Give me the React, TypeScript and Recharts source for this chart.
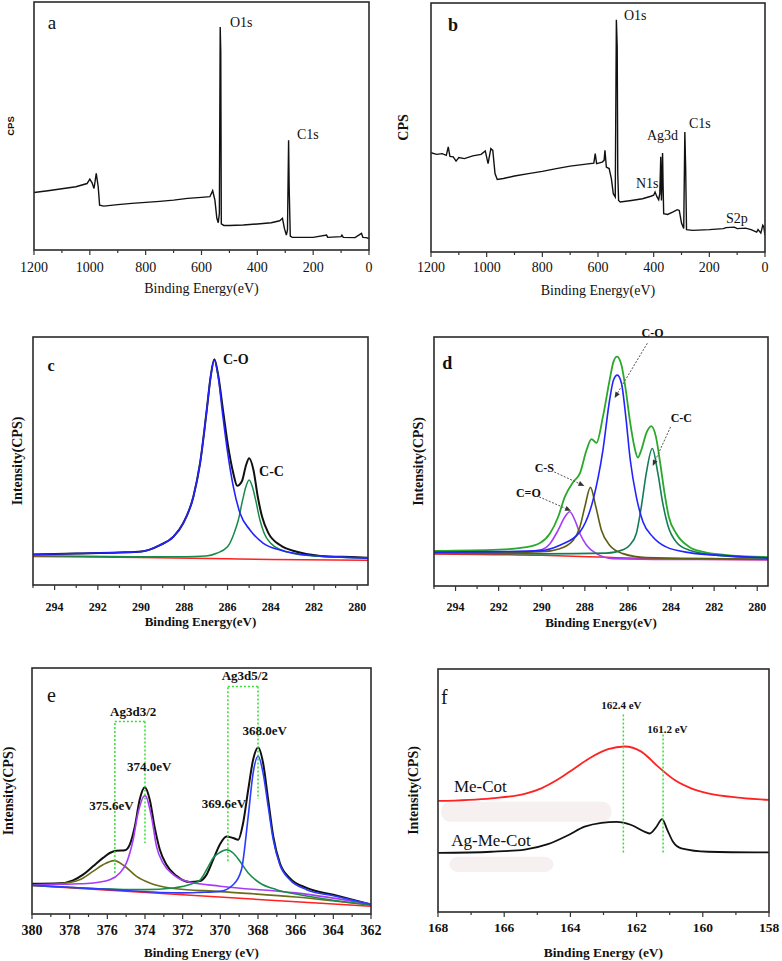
import React from 'react';
import { LineChart, Line, XAxis, YAxis, ReferenceArea, ReferenceLine, ReferenceDot, Label } from 'recharts';

const SERIF = "'Liberation Serif', 'Times New Roman', serif";
const SANS = "'Liberation Sans', Arial, sans-serif";

// (a) survey spectrum, Me-Cot
const aEnergy = [1200, 1150, 1100, 1050, 1010, 1000, 992, 985, 977, 970, 965, 950, 900, 850, 800, 750, 700, 650, 600, 570, 560, 552, 545, 540, 536, 533, 531, 529, 520, 500, 450, 400, 350, 320, 310, 303, 296, 292, 288, 286, 282, 275, 200, 152, 148, 100, 97, 92, 50, 27, 22, 10, 0];
const aCounts = [23.2, 23.9, 24.7, 25.5, 26.8, 28.6, 27.1, 24.8, 30.9, 25.5, 18.1, 17.7, 18.3, 18.8, 19.2, 19.6, 20.1, 20.8, 21.2, 21.5, 23.9, 20.1, 12.8, 11, 14.8, 89.9, 80, 10.5, 9.9, 9.9, 10.1, 10.5, 11, 11.8, 12.8, 8.7, 6, 8.1, 44.3, 25.5, 5.6, 5.1, 5.1, 6, 5.1, 5.4, 6, 5.1, 5, 6.7, 5.1, 5, 4.6];

// (b) survey spectrum, Ag-Me-Cot
const bEnergy = [1200, 1180, 1160, 1145, 1138, 1132, 1120, 1110, 1100, 1080, 1050, 1020, 1005, 995, 985, 978, 970, 962, 940, 900, 850, 800, 750, 700, 650, 615, 610, 605, 585, 578, 575, 570, 560, 552, 545, 538, 534, 531, 529, 526, 520, 480, 440, 410, 400, 395, 388, 382, 378, 374.5, 372, 370, 368, 366, 364, 350, 330, 315, 308, 300, 292, 288, 285, 282, 260, 200, 150, 140, 110, 100, 70, 50, 30, 25, 15, 8, 4, 0];
const bCounts = [39.9, 39.2, 39.5, 38.8, 42.2, 38.4, 38.2, 36.5, 37.9, 37.5, 38.6, 39.2, 40.6, 35.5, 41.5, 40.8, 31.5, 29.1, 29.5, 30.5, 31.5, 32.4, 33.5, 34.5, 35.2, 35.7, 39.5, 35.5, 36.1, 36.8, 40.8, 34.1, 33.5, 29.5, 23.4, 22.1, 93.3, 82.3, 31.5, 20.7, 20.1, 20.7, 21.4, 22.4, 22.8, 24.1, 22.1, 21, 23.4, 38.2, 20.7, 28.8, 39.8, 26.1, 15.4, 15.1, 16.1, 17, 16.7, 11.6, 9.4, 48.2, 33.5, 9, 8.7, 9, 9.4, 9.8, 10, 9.4, 9.6, 9, 8, 9, 7.6, 10.7, 10, 6.7];

// (c) C1s, Me-Cot
const cSumX = [295, 293, 291, 290, 289.12, 288.5, 288.05, 287.58, 287.27, 286.96, 286.78, 286.61, 286.43, 286.2, 285.97, 285.73, 285.55, 285.34, 285.14, 285.0, 284.8, 284.6, 284.4, 284.1, 283.57, 282.8, 281.7, 280, 279.5];
const cSumY = [12.3, 12.7, 13.1, 13.5, 16.1, 19.5, 24.9, 35.6, 49.1, 70.6, 84, 91, 84.5, 69.9, 55.8, 45, 40, 41.7, 48.4, 51.1, 46.4, 35.6, 27.5, 20.8, 16.1, 13.4, 11.7, 11.2, 11.0];
const cCOX = [295, 293, 291, 290.05, 289.12, 288.5, 288.05, 287.58, 287.27, 286.96, 286.78, 286.61, 286.43, 286.23, 286.01, 285.73, 285.42, 284.96, 284.34, 283.57, 282.34, 280, 279.5];
const cCOY = [12.3, 12.7, 13.1, 13.4, 16.1, 19.5, 24.9, 35.6, 49.1, 70.6, 84, 90.6, 84, 69.2, 54.4, 39.6, 28.9, 22.2, 16.8, 14.1, 12.1, 11.0, 10.8];
const cCCX = [295, 290, 288, 287, 286.5, 286, 285.7, 285.5, 285.3, 285.15, 285.0, 284.85, 284.7, 284.5, 284.3, 284.0, 283.5, 283, 282, 280, 279.5];
const cCCY = [11.8, 11.4, 11.4, 11.7, 12.8, 15.4, 20.8, 26.2, 34.3, 39.6, 42.3, 39.6, 34.3, 26.2, 20.8, 16.8, 14.1, 12.8, 11.7, 11.0, 10.8];
const cBgX = [295, 290, 286, 284, 279.5];
const cBgY = [11.5, 11.1, 10.6, 10.3, 10.0];

// (d) C1s, Ag-Me-Cot
const dSumX = [295, 292, 290.81, 290.08, 289.62, 289.24, 288.93, 288.54, 288.23, 287.92, 287.69, 287.46, 287.16, 286.85, 286.67, 286.51, 286.3, 286.1, 285.89, 285.7, 285.54, 285.38, 285.15, 284.92, 284.7, 284.5, 284.3, 284.1, 283.76, 283.15, 282.5, 281.5, 279.5];
const dSumY = [14.1, 14.6, 15.5, 17.3, 21.1, 27.7, 35.8, 41.8, 45.2, 54.6, 59, 57.5, 68, 82.7, 90.1, 92.1, 88.7, 78.7, 65.3, 55.9, 51.6, 54.6, 61.3, 64.2, 59.9, 49.2, 37.2, 27.7, 21.1, 15.7, 13.7, 12.5, 11.6];
const dCOX = [295, 292, 290.08, 289.16, 288.23, 287.62, 287.16, 286.85, 286.67, 286.49, 286.3, 286.1, 285.89, 285.61, 285.3, 284.84, 284.23, 283.15, 281.76, 279.5];
const dCOY = [13.6, 13.8, 14.2, 16.4, 21.7, 34.5, 54.6, 74.7, 82.7, 84.7, 81.4, 68, 50.5, 35.8, 25.7, 19.7, 15.7, 13.4, 12.3, 11.3];
const dCCX = [295, 290, 287, 286.2, 285.92, 285.61, 285.38, 285.15, 284.87, 284.61, 284.38, 284.15, 283.76, 283.15, 281.76, 279.5];
const dCCY = [13.2, 12.9, 13.2, 14.7, 16.4, 21.1, 31.8, 45.2, 55.2, 45.2, 33.1, 24.4, 17.7, 14.4, 12.3, 11.3];
const dCSX = [295, 290, 289.16, 288.54, 288.23, 288.0, 287.74, 287.49, 287.23, 286.85, 286.23, 285.15, 279.5];
const dCSY = [13.1, 13.8, 15, 18.4, 23.7, 31.8, 39.6, 31.8, 22.4, 16.4, 13, 11.4, 10.8];
const dCdOX = [295, 291, 290.08, 289.62, 289.24, 288.93, 288.7, 288.46, 288.23, 287.92, 287.46, 286.69, 284, 279.5];
const dCdOY = [13.2, 13.5, 14.4, 17, 22.4, 27.7, 29.8, 26.4, 21.1, 16.4, 13, 11, 10.7, 10.6];
const dBgX = [295, 290, 287, 285, 279.5];
const dBgY = [12.9, 12.3, 11.5, 11.0, 10.5];

// (e) Ag3d
const eSumX = [380, 378.53, 377.82, 377.29, 376.76, 376.23, 375.87, 375.52, 375.07, 374.81, 374.54, 374.28, 374.01, 373.75, 373.48, 373.21, 372.86, 372.33, 371.62, 371.09, 370.73, 370.38, 370.03, 369.67, 369.32, 369.05, 368.79, 368.52, 368.26, 367.99, 367.73, 367.46, 367.19, 366.84, 366.31, 365.42, 364, 362];
const eSumY = [12.3, 12.5, 13.7, 16, 19.4, 22.8, 24.8, 25.7, 25.9, 28.2, 35.6, 46.5, 51.5, 46.5, 35, 26.1, 20, 15.5, 13.0, 13.4, 16, 22.1, 28.2, 31.5, 30.9, 30.2, 37, 50.5, 62.7, 67.7, 61.4, 46.5, 31.5, 20.7, 14.6, 10.6, 7.8, 3.8];
const e374X = [380, 377.8, 376.76, 375.87, 375.34, 374.99, 374.63, 374.37, 374.0, 373.66, 373.39, 373.04, 372.5, 371.8, 370, 366, 362];
const e374Y = [11.8, 12.2, 12.6, 13.9, 16.7, 20.7, 30.2, 41, 48.1, 39.7, 27.5, 20.7, 16, 13.3, 11.3, 8.6, 4.0];
const e3756X = [380, 378.53, 377.47, 376.76, 376.23, 375.64, 375.07, 374.45, 373.75, 372.68, 370, 366, 362];
const e3756Y = [11.9, 12.3, 13.9, 17.3, 20, 21.7, 19.4, 15.3, 12.6, 10.6, 9.1, 6.9, 3.6];
const e3696X = [380, 374, 372.5, 371.5, 371.09, 370.73, 370.38, 370.03, 369.67, 369.32, 368.96, 368.52, 367.9, 367.02, 365.78, 364, 362];
const e3696Y = [11.6, 9.9, 10.6, 12.3, 13.7, 18, 22.8, 25, 26.1, 24.8, 21.4, 16.7, 12.6, 9.9, 7.8, 5.6, 3.8];
const e368X = [380, 376, 372, 371.09, 370.03, 369.32, 368.88, 368.52, 368.26, 367.99, 367.73, 367.46, 367.19, 366.84, 366.31, 365.42, 364, 362];
const e368Y = [11.7, 10.0, 8.6, 8.8, 9.2, 11.9, 18, 39.7, 57.3, 64.1, 57.3, 43.7, 30.2, 20, 13.9, 9.9, 7.4, 3.9];
const eBgX = [380, 362];
const eBgY = [11.6, 3.1];

// (f) S2p
const fMeX = [168, 166.39, 165.38, 164.88, 164.37, 163.87, 163.37, 162.86, 162.36, 161.86, 161.35, 160.85, 160.35, 159.84, 158.84, 158];
const fMeY = [45.7, 46.8, 48.6, 50.9, 54.6, 59.2, 63.7, 67, 68.1, 66, 59.8, 54.3, 50.9, 48.8, 47, 46.1];
const fAgX = [168, 166.39, 165.38, 164.68, 164.07, 163.57, 163.06, 162.61, 162.16, 161.75, 161.6, 161.4, 161.23, 161.07, 160.9, 160.65, 159.84, 158];
const fAgY = [24.3, 24.8, 25.7, 27.9, 31.6, 35.1, 36.7, 37.1, 35.8, 33, 32.3, 35.1, 38.2, 33.7, 28.9, 26.2, 24.8, 24.5];

const surveyTicks = [0, 100, 200, 300, 400, 500, 600, 700, 800, 900, 1000, 1100, 1200];
const c1sTicks = [280, 281, 282, 283, 284, 285, 286, 287, 288, 289, 290, 291, 292, 293, 294, 295];
const ag3dTicks = [362, 363, 364, 365, 366, 367, 368, 369, 370, 371, 372, 373, 374, 375, 376, 377, 378, 379, 380];
const s2pTicks = [158, 159, 160, 161, 162, 163, 164, 165, 166, 167, 168];

const pts = (xs: number[], ys: number[]) => xs.map((x, i) => ({ x, y: ys[i] }));

const makeTick = (gap: number, size: number, bold: boolean, step: number) => (props: any) => {
  const { x, y, payload } = props;
  const v = payload.value;
  const major = Math.abs(v / step - Math.round(v / step)) < 1e-6;
  const base = y - gap;
  return (
    <g>
      <line x1={x} x2={x} y1={base} y2={base + (major ? 5 : 3)} stroke="#333" strokeWidth={1.2} />
      {major && (
        <text x={x} y={y} dy="0.71em" textAnchor="middle" fontSize={size} fontWeight={bold ? 'bold' : 'normal'} fontFamily={SERIF} fill="#111">
          {v}
        </text>
      )}
    </g>
  );
};

const note = (key: string, x: number, y: number, text: string, size: number, bold = false, anchor = 'start') => (
  <ReferenceDot
    key={key}
    x={x}
    y={y}
    r={0}
    ifOverflow="visible"
    shape={(s: any) => (
      <text x={s.cx} y={s.cy} textAnchor={anchor} dominantBaseline="central" fontSize={size} fontWeight={bold ? 'bold' : 'normal'} fontFamily={SERIF} fill="#111">
        {text}
      </text>
    )}
  />
);

const arrowShape = (p: any) => {
  const { x1, y1, x2, y2 } = p;
  const a = Math.atan2(y2 - y1, x2 - x1);
  const bx = x2 - 6 * Math.cos(a);
  const by = y2 - 6 * Math.sin(a);
  const s = Math.sin(a), c = Math.cos(a);
  return (
    <g>
      <line x1={x1} y1={y1} x2={bx} y2={by} stroke="#555" strokeWidth={1} strokeDasharray="2 1.5" />
      <polygon points={`${x2},${y2} ${bx - 2.5 * s},${by + 2.5 * c} ${bx + 2.5 * s},${by - 2.5 * c}`} fill="#333" />
    </g>
  );
};

const arrow = (key: string, from: [number, number], to: [number, number]) => (
  <ReferenceLine key={key} segment={[{ x: from[0], y: from[1] }, { x: to[0], y: to[1] }]} ifOverflow="visible" shape={arrowShape} />
);

const dotted = (key: string, from: [number, number], to: [number, number]) => (
  <ReferenceLine key={key} segment={[{ x: from[0], y: from[1] }, { x: to[0], y: to[1] }]} stroke="#33dd33" strokeWidth={1.5} strokeDasharray="2 2" ifOverflow="visible" />
);

const curve = (key: string, xs: number[], ys: number[], color: string, width = 1.5, type: any = 'monotone') => (
  <Line key={key} data={pts(xs, ys)} dataKey="y" type={type} stroke={color} strokeWidth={width} dot={false} activeDot={false} isAnimationActive={false} />
);

const smudgeShape = (s: any) => (
  <rect x={s.x} y={s.y} width={s.width} height={s.height} rx={9} fill="#f6f0f0" />
);

interface PanelProps {
  cell: number[];
  box: number[];
  domain: [number, number];
  ticks: number[];
  step: number;
  tickFont: number;
  tickBold: boolean;
  tickGap: number;
  xTitle: string;
  xTitleFont: number;
  xTitleBold: boolean;
  xTitleDy: number;
  yTitle: string;
  yTitleX: number;
  yTitleFont: number;
  yTitleFamily?: string;
  children: React.ReactNode;
}

const Panel = (p: PanelProps) => {
  const [cx, cy, cw, ch] = p.cell;
  const [l, t, r, b] = p.box;
  const plotH = b - t;
  return (
    <div style={{ position: 'absolute', left: cx, top: cy }}>
      <LineChart width={cw} height={ch} margin={{ top: t - cy, right: cx + cw - r, left: 0, bottom: 0 }}>
        <XAxis
          dataKey="x"
          type="number"
          domain={p.domain}
          reversed
          allowDataOverflow
          ticks={p.ticks}
          interval={0}
          tickSize={0}
          tickMargin={p.tickGap}
          axisLine={false}
          tickLine={false}
          height={cy + ch - b}
          tick={makeTick(p.tickGap, p.tickFont, p.tickBold, p.step)}
          label={
            <Label
              content={(lp: any) => {
                const vb = lp.viewBox;
                const w = vb.width ?? vb.upperWidth;
                return (
                  <g>
                    <rect x={vb.x} y={vb.y - plotH} width={w} height={plotH} fill="none" stroke="#2b2b2b" strokeWidth={1.6} />
                    <text x={vb.x + w / 2} y={vb.y + p.xTitleDy} textAnchor="middle" dominantBaseline="central" fontSize={p.xTitleFont} fontWeight={p.xTitleBold ? 'bold' : 'normal'} fontFamily={SERIF} fill="#111">
                      {p.xTitle}
                    </text>
                  </g>
                );
              }}
            />
          }
        />
        <YAxis
          type="number"
          domain={[0, 100]}
          allowDataOverflow
          width={l - cx}
          tick={false}
          tickLine={false}
          axisLine={false}
          label={
            <Label
              content={(lp: any) => {
                const vb = lp.viewBox;
                const my = vb.y + vb.height / 2;
                return (
                  <text x={p.yTitleX} y={my} transform={`rotate(-90 ${p.yTitleX} ${my})`} textAnchor="middle" dominantBaseline="central" fontSize={p.yTitleFont} fontWeight="bold" fontFamily={p.yTitleFamily || SERIF} fill="#111">
                    {p.yTitle}
                  </text>
                );
              }}
            />
          }
        />
        {p.children}
      </LineChart>
    </div>
  );
};

const App = () => {
  return (
    <div style={{ position: 'absolute', left: 0, top: 0, width: 782, height: 961, background: '#fff', fontFamily: SERIF }}>
      <Panel cell={[0, 0, 391, 320]} box={[34, 2, 369, 250]} domain={[0, 1200]} ticks={surveyTicks} step={200}
        tickFont={14} tickBold={false} tickGap={12} xTitle="Binding Energy(eV)" xTitleFont={14} xTitleBold={false} xTitleDy={38}
        yTitle="CPS" yTitleX={10} yTitleFont={9.5} yTitleFamily={SANS}>
        {[
          curve('a', aEnergy, aCounts, '#111', 1.4, 'linear'),
          note('la', 1135.5, 91.9, 'a', 19, false, 'middle'),
          note('lo', 498, 91.9, 'O1s', 14),
          note('lc', 258, 46.4, 'C1s', 14),
        ]}
      </Panel>

      <Panel cell={[391, 0, 391, 320]} box={[431, 3, 765, 252]} domain={[0, 1200]} ticks={surveyTicks} step={200}
        tickFont={14} tickBold={false} tickGap={10} xTitle="Binding Energy(eV)" xTitleFont={14} xTitleBold={false} xTitleDy={38}
        yTitle="CPS" yTitleX={12} yTitleFont={14}>
        {[
          curve('b', bEnergy, bCounts, '#111', 1.4, 'linear'),
          note('lb', 1121, 91.2, 'b', 18, true, 'middle'),
          note('lo', 506.6, 94.8, 'O1s', 14),
          note('lag', 424, 46.6, 'Ag3d', 14),
          note('lc', 273, 51.8, 'C1s', 14),
          note('ln', 463.5, 27.7, 'N1s', 14),
          note('ls', 140, 13.3, 'S2p', 14),
        ]}
      </Panel>

      <Panel cell={[0, 320, 391, 320]} box={[33, 337, 368, 585]} domain={[279.5, 295]} ticks={c1sTicks} step={2}
        tickFont={12} tickBold tickGap={17.5} xTitle="Binding Energy(eV)" xTitleFont={13} xTitleBold xTitleDy={36.7}
        yTitle="Intensity(CPS)" yTitleX={17} yTitleFont={14}>
        {[
          curve('bg', cBgX, cBgY, '#ff2020', 1.5),
          curve('sum', cSumX, cSumY, '#111', 2),
          curve('cc', cCCX, cCCY, '#178a48', 1.5),
          curve('co', cCOX, cCOY, '#2323ff', 1.6),
          note('lc', 294.17, 88.7, 'c', 16, true, 'middle'),
          note('lco', 286.21, 91.1, 'C-O', 14, true),
          note('lcc', 284.54, 45.6, 'C-C', 14, true),
        ]}
      </Panel>

      <Panel cell={[391, 320, 391, 320]} box={[434, 337, 768, 586]} domain={[279.5, 295]} ticks={c1sTicks} step={2}
        tickFont={12} tickBold tickGap={16.5} xTitle="Binding Energy(eV)" xTitleFont={13} xTitleBold xTitleDy={36}
        yTitle="Intensity(CPS)" yTitleX={27} yTitleFont={14}>
        {[
          curve('bg', dBgX, dBgY, '#ff2020', 1.5),
          curve('sum', dSumX, dSumY, '#2aa82a', 1.8),
          curve('cdo', dCdOX, dCdOY, '#a63cf6', 1.6),
          curve('cs', dCSX, dCSY, '#5e5e12', 1.6),
          curve('cc', dCCX, dCCY, '#147d55', 1.6),
          curve('co', dCOX, dCOY, '#2323ff', 1.6),
          arrow('aco', [285.1, 97.5], [286.62, 75.5]),
          arrow('acc', [284.02, 63.9], [284.85, 48.2]),
          arrow('acs', [289.42, 45.8], [288.02, 40.2]),
          arrow('acdo', [290.12, 35.8], [288.64, 30.2]),
          note('ld', 294.38, 89.5, 'd', 18, true, 'middle'),
          note('lco', 284.86, 101.6, 'C-O', 12, true, 'middle'),
          note('lcc', 283.52, 67.4, 'C-C', 12, true, 'middle'),
          note('lcs', 289.88, 47.3, 'C-S', 12, true, 'middle'),
          note('lcdo', 290.62, 37.3, 'C=O', 12, true, 'middle'),
        ]}
      </Panel>

      <Panel cell={[0, 640, 391, 321]} box={[32, 668, 371, 914]} domain={[362, 380]} ticks={ag3dTicks} step={2}
        tickFont={14} tickBold tickGap={10.7} xTitle="Binding Energy (eV)" xTitleFont={13} xTitleBold xTitleDy={38.7}
        yTitle="Intensity(CPS)" yTitleX={8} yTitleFont={14}>
        {[
          curve('bg', eBgX, eBgY, '#ff2020', 1.5),
          curve('sum', eSumX, eSumY, '#111', 2),
          curve('p3756', e3756X, e3756Y, '#6b6b1a', 1.6),
          curve('p374', e374X, e374Y, '#a63cf6', 1.6),
          curve('p3696', e3696X, e3696Y, '#1b8b4c', 1.6),
          curve('p368', e368X, e368Y, '#2a3cff', 1.6),
          dotted('d1', [375.6, 16.7], [375.6, 78.3]),
          dotted('d2', [375.6, 78.3], [374.0, 78.3]),
          dotted('d3', [374.0, 78.3], [374.0, 28.9]),
          dotted('d4', [369.6, 21.4], [369.6, 92.5]),
          dotted('d5', [369.6, 92.5], [368.0, 92.5]),
          dotted('d6', [368.0, 92.5], [368.0, 46.7]),
          note('le', 378.97, 89.1, 'e', 20, false, 'middle'),
          note('l32', 374.63, 82.4, 'Ag3d3/2', 13, true, 'middle'),
          note('l52', 368.7, 96.9, 'Ag3d5/2', 13, true, 'middle'),
          note('l374', 373.78, 60, '374.0eV', 13, true, 'middle'),
          note('l3756', 375.78, 44, '375.6eV', 13, true, 'middle'),
          note('l3696', 369.81, 45.1, '369.6eV', 13, true, 'middle'),
          note('l368', 367.64, 74.6, '368.0eV', 13, true, 'middle'),
        ]}
      </Panel>

      <Panel cell={[391, 640, 391, 321]} box={[438, 669, 769, 912]} domain={[158, 168]} ticks={s2pTicks} step={2}
        tickFont={13.5} tickBold tickGap={10.3} xTitle="Binding Energy (eV)" xTitleFont={13.5} xTitleBold xTitleDy={40.3}
        yTitle="Intensity(CPS)" yTitleX={22} yTitleFont={14}>
        {[
          <ReferenceArea key="s1" x1={167.9} x2={162.76} y1={37.1} y2={45.4} ifOverflow="visible" shape={smudgeShape} />,
          <ReferenceArea key="s2" x1={167.66} x2={164.51} y1={16.5} y2={22.7} ifOverflow="visible" shape={smudgeShape} />,
          curve('me', fMeX, fMeY, '#ff2222', 1.8),
          curve('ag', fAgX, fAgY, '#111', 1.8),
          dotted('d1', [162.4, 24.5], [162.4, 82.1]),
          dotted('d2', [161.2, 24.5], [161.2, 73.2]),
          note('lf', 167.81, 88.6, 'f', 20, false, 'middle'),
          note('l1624', 162.46, 85, '162.4 eV', 11, true, 'middle'),
          note('l1612', 161.07, 75.2, '161.2 eV', 11, true, 'middle'),
          note('lme', 166.72, 51.6, 'Me-Cot', 17, false, 'middle'),
          note('lag', 166.4, 29.6, 'Ag-Me-Cot', 17, false, 'middle'),
        ]}
      </Panel>
    </div>
  );
};

export default App;
